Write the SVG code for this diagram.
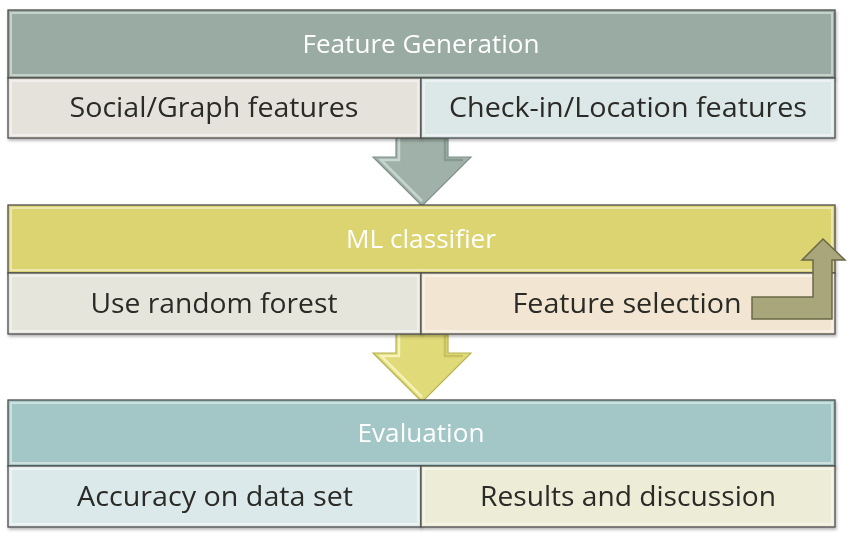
<svg xmlns="http://www.w3.org/2000/svg" width="868" height="540" viewBox="0 0 868 540">
<style>
.cell{stroke:#4d4d4d;stroke-width:1.3}
.bev{fill:none;stroke:#ffffff;stroke-opacity:0.45;stroke-width:2}
.hdr{font-family:"Open Sans","Liberation Sans",sans-serif;font-size:25px;fill:#ffffff;text-anchor:middle}
.sub{font-family:"Open Sans","Liberation Sans",sans-serif;font-size:27px;fill:#2a2a26;text-anchor:middle}
.arr{stroke-width:1.2;stroke-linejoin:miter}
.hl{fill:none;stroke-width:2.5}
</style>
<defs>
<filter id="sh" x="-5%" y="-10%" width="110%" height="130%">
<feDropShadow dx="1" dy="2" stdDeviation="1.5" flood-color="#000" flood-opacity="0.3"/>
</filter>
</defs>

<g id="connectors">
<path class="arr" d="M396,138 L448,138 L448,157 L471,157 L422,206 L373,157 L396,157 Z" fill="#9fb1a9" stroke="#7e918a"/>
<path class="hl" d="M399,138 L399,160 L381,160 L422,201" stroke="#d3dfda" stroke-opacity="0.8"/>
<path class="hl" d="M445,138 L445,160 L463,160" stroke="#7d8f87" stroke-opacity="0.7"/>
<path class="arr" d="M396,334 L448,334 L448,353 L471,353 L422,402 L373,353 L396,353 Z" fill="#e0da78" stroke="#b8b250"/>
<path class="hl" d="M399,334 L399,356 L381,356 L422,397" stroke="#f8f5c0" stroke-opacity="0.9"/>
<path class="hl" d="M445,334 L445,356 L463,356" stroke="#bdb656" stroke-opacity="0.7"/>
</g>

<g id="feature-generation" filter="url(#sh)">
<rect class="cell" x="8" y="10" width="827" height="68" fill="#9aaba3"/>
<rect class="bev" x="11" y="13" width="821" height="62"/>
<text class="hdr" x="421" y="53" textLength="237" lengthAdjust="spacingAndGlyphs">Feature Generation</text>
</g>
<g id="social-graph" filter="url(#sh)">
<rect class="cell" x="8" y="78" width="413" height="60" fill="#e5e2dc"/>
<rect class="bev" x="11" y="81" width="407" height="54"/>
<text class="sub" x="214" y="117" textLength="289" lengthAdjust="spacingAndGlyphs">Social/Graph features</text>
</g>
<g id="checkin-location" filter="url(#sh)">
<rect class="cell" x="421" y="78" width="414" height="60" fill="#dce7e7"/>
<rect class="bev" x="424" y="81" width="408" height="54"/>
<text class="sub" x="628" y="117" textLength="358" lengthAdjust="spacingAndGlyphs">Check-in/Location features</text>
</g>

<g id="ml-classifier" filter="url(#sh)">
<rect class="cell" x="8" y="205" width="827" height="68" fill="#dcd46f"/>
<rect class="bev" x="11" y="208" width="821" height="62"/>
<text class="hdr" x="421" y="248" textLength="150" lengthAdjust="spacingAndGlyphs">ML classifier</text>
</g>
<g id="random-forest" filter="url(#sh)">
<rect class="cell" x="8" y="273" width="413" height="61" fill="#e5e5dc"/>
<rect class="bev" x="11" y="276" width="407" height="55"/>
<text class="sub" x="214" y="313" textLength="247" lengthAdjust="spacingAndGlyphs">Use random forest</text>
</g>
<g id="feature-selection" filter="url(#sh)">
<rect class="cell" x="421" y="273" width="414" height="61" fill="#f2e6d2"/>
<rect class="bev" x="424" y="276" width="408" height="55"/>
<text class="sub" x="627" y="313" textLength="229" lengthAdjust="spacingAndGlyphs">Feature selection</text>
</g>

<g id="feedback-arrow">
<path d="M752,297 L813,297 L813,260 L802,260 L823,239 L845,260 L832,260 L832,319 L752,319 Z" fill="#a8a67a" stroke="#6b6a48" stroke-width="1.5"/>
</g>

<g id="evaluation" filter="url(#sh)">
<rect class="cell" x="8" y="400" width="827" height="66" fill="#a3c6c6"/>
<rect class="bev" x="11" y="403" width="821" height="60"/>
<text class="hdr" x="421" y="442" textLength="127" lengthAdjust="spacingAndGlyphs">Evaluation</text>
</g>
<g id="accuracy" filter="url(#sh)">
<rect class="cell" x="8" y="466" width="413" height="61" fill="#dce9ea"/>
<rect class="bev" x="11" y="469" width="407" height="55"/>
<text class="sub" x="215" y="506" textLength="276" lengthAdjust="spacingAndGlyphs">Accuracy on data set</text>
</g>
<g id="results" filter="url(#sh)">
<rect class="cell" x="421" y="466" width="414" height="61" fill="#edecd6"/>
<rect class="bev" x="424" y="469" width="408" height="55"/>
<text class="sub" x="628" y="506" textLength="296" lengthAdjust="spacingAndGlyphs">Results and discussion</text>
</g>
</svg>
